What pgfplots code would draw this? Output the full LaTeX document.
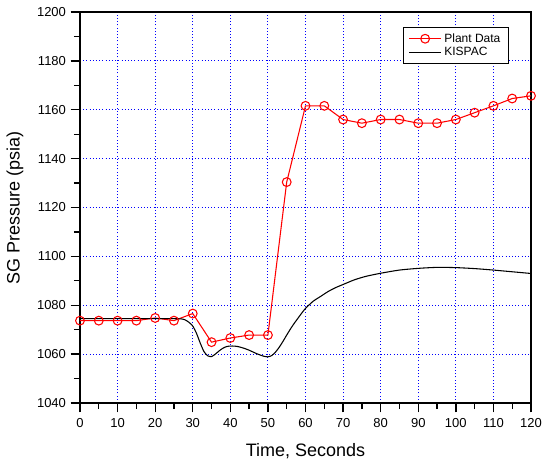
\documentclass[border=0pt]{standalone}
\usepackage{pgfplots}
\pgfplotsset{compat=1.18}
\usepackage{fontspec}
\setmainfont{Liberation Sans}
\begin{document}
\begin{tikzpicture}
\useasboundingbox (-60pt,-46.5pt) rectangle (346.5pt,302.25pt);
\begin{axis}[
  at={(0,0)}, anchor=south west,
  scale only axis, width=338.25pt, height=293.25pt,
  xmin=0, xmax=120, ymin=1040, ymax=1200,
  xtick={0,10,...,120}, ytick={1040,1060,...,1200},
  minor x tick num=1, minor y tick num=1,
  tick pos=left, tick align=outside,
  major tick length=7pt, minor tick length=4.5pt,
  every tick/.style={black, line width=1pt},
  axis line style={line width=1.2pt},
  grid=major,
  major grid style={blue, dash pattern=on 0.8pt off 1.6pt, line width=0.8pt},
  /pgf/number format/assume math mode=true,
  /pgf/number format/1000 sep={},
  ticklabel style={font=\fontsize{9.75pt}{11pt}\selectfont},
  xticklabel style={yshift=-1pt},
  xlabel={Time, Seconds},
  ylabel={SG Pressure (psia)},
  label style={font=\fontsize{13.5pt}{16pt}\selectfont},
  xlabel style={at={(axis description cs:0.5,-0.138)}, anchor=base},
  ylabel style={at={(axis description cs:-0.144,0.5)}, anchor=center},
  legend style={at={(0.951,0.962)}, anchor=north east, draw=black, line width=0.8pt,
    font=\fontsize{9pt}{10pt}\selectfont, inner xsep=4pt, inner ysep=2.5pt, row sep=-1.5pt,
    cells={anchor=west}},
  legend image code/.code={%
    \draw[#1] (0pt,0pt) -- (24pt,0pt);
    \draw[#1, only marks] plot coordinates {(12pt,0pt)};},
]
\addplot[red, line width=0.8pt, mark=o, mark size=3.3pt,
  mark options={fill=white, solid, line width=0.8pt}] coordinates {
(0,1073.7) (5,1073.7) (10,1073.7) (15,1073.7) (20,1074.8) (25,1073.7)
(30,1076.6) (35,1064.9) (40,1066.6) (45,1067.8) (50,1067.8)
(55,1130.4) (60,1161.6) (65,1161.6) (70,1156.0) (75,1154.5)
(80,1156.0) (85,1156.0) (90,1154.5) (95,1154.5) (100,1156.0)
(105,1158.8) (110,1161.6) (115,1164.6) (120,1165.7)
};
\addlegendentry{Plant Data}
\addplot[black, line width=0.8pt, smooth, tension=0.4] coordinates {
(0,1074.5) (10,1074.5) (20,1074.5) (25,1074.5) (27,1074.4) (28,1074) (29,1073)
(30,1071.5) (31,1068.5) (32,1064.5) (33,1061) (34,1059.3) (35,1059)
(36,1060) (37,1061.3) (38,1062.4) (39,1063.1) (40,1063.3) (41,1063.3)
(42,1063.1) (43,1062.7) (44,1062.2) (45,1061.6) (46,1060.9) (47,1060.2)
(48,1059.6) (49,1059.1) (50,1058.9) (51,1059.4) (52,1060.8) (53,1062.8)
(54,1065.2) (55,1067.8) (56,1070.3) (57,1072.6) (58,1074.7) (59,1076.8)
(60,1078.7) (62,1081.6) (64,1083.6) (66,1085.6) (68,1087.2) (70,1088.5)
(73,1090.4) (76,1091.8) (80,1093.1) (85,1094.4) (90,1095.1) (95,1095.5)
(100,1095.4) (105,1095.0) (110,1094.4) (115,1093.7) (120,1093.0)
};
\addlegendentry{KISPAC}
\end{axis}
\end{tikzpicture}
\end{document}
